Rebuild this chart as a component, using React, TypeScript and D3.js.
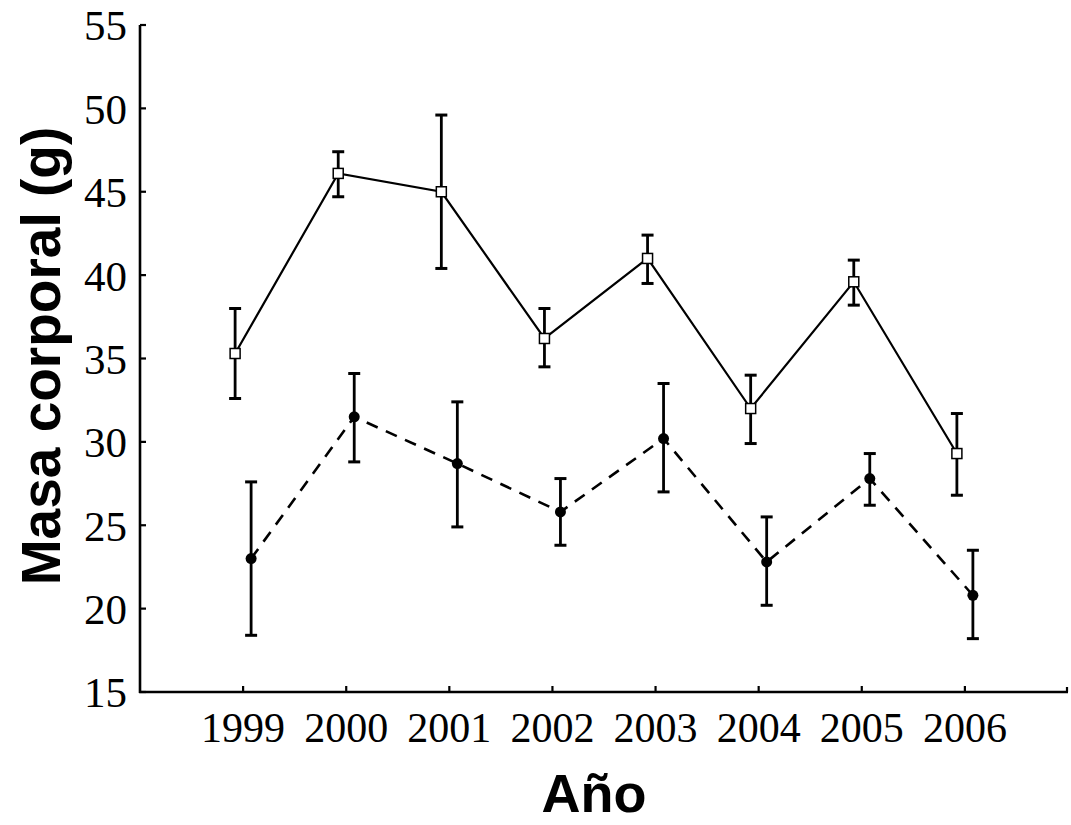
import React from "react";
import * as d3 from "d3";

// Años de muestreo
const years = [1999, 2000, 2001, 2002, 2003, 2004, 2005, 2006];

// Serie 1 (cuadrados blancos, línea continua): media y límites de la barra de error
const seriesAMean = [35.3, 46.1, 45.0, 36.2, 41.0, 32.0, 39.6, 29.3];
const seriesAHigh = [38.0, 47.4, 49.6, 38.0, 42.4, 34.0, 40.9, 31.7];
const seriesALow = [32.6, 44.7, 40.4, 34.5, 39.5, 29.9, 38.2, 26.8];

// Serie 2 (círculos negros, línea discontinua)
const seriesBMean = [23.0, 31.5, 28.7, 25.8, 30.2, 22.8, 27.8, 20.8];
const seriesBHigh = [27.6, 34.1, 32.4, 27.8, 33.5, 25.5, 29.3, 23.5];
const seriesBLow = [18.4, 28.8, 24.9, 23.8, 27.0, 20.2, 26.2, 18.2];

const yTicks = [15, 20, 25, 30, 35, 40, 45, 50, 55];

const W = 1071;
const H = 825;
const left = 140;
const right = 1068;
const top = 25;
const bottom = 692;

export default function App() {
  const x = d3.scaleLinear().domain([1998, 2007]).range([left, right]);
  const y = d3.scaleLinear().domain([15, 55]).range([bottom, top]);

  const offA = -8;
  const offB = 8;

  const lineA = d3
    .line<number>()
    .x((_, i) => x(years[i]) + offA)
    .y((d) => y(d));
  const lineB = d3
    .line<number>()
    .x((_, i) => x(years[i]) + offB)
    .y((d) => y(d));

  const cap = 6;
  const serif = "'Liberation Serif', 'Times New Roman', serif";
  const sans = "'Liberation Sans', Arial, Helvetica, sans-serif";

  const errorBars = (hi: number[], lo: number[], off: number, key: string) =>
    years.map((yr, i) => {
      const cx = x(yr) + off;
      return (
        <g key={key + i} stroke="#000" strokeWidth={2.8}>
          <line x1={cx} x2={cx} y1={y(hi[i])} y2={y(lo[i])} />
          <line x1={cx - cap} x2={cx + cap} y1={y(hi[i])} y2={y(hi[i])} strokeWidth={3} />
          <line x1={cx - cap} x2={cx + cap} y1={y(lo[i])} y2={y(lo[i])} strokeWidth={3} />
        </g>
      );
    });

  return (
    <svg
      width={W}
      height={H}
      viewBox={`0 0 ${W} ${H}`}
      style={{ position: "absolute", left: 0, top: 0, background: "#fff" }}
    >
      <rect x={0} y={0} width={W} height={H} fill="#fff" />

      {/* Ejes */}
      <line x1={left} x2={left} y1={top} y2={bottom + 1} stroke="#000" strokeWidth={2.6} />
      <line x1={left - 1} x2={right} y1={bottom} y2={bottom} stroke="#000" strokeWidth={2.6} />

      {yTicks.map((t) => (
        <g key={"yt" + t}>
          <line x1={left} x2={left + 6} y1={y(t)} y2={y(t)} stroke="#000" strokeWidth={2.2} />
          <text
            x={127}
            y={y(t)}
            dy="0.36em"
            textAnchor="end"
            fontFamily={serif}
            fontSize={43}
            fill="#000"
          >
            {t}
          </text>
        </g>
      ))}

      {years.map((yr) => (
        <g key={"xt" + yr}>
          <line x1={x(yr)} x2={x(yr)} y1={bottom} y2={bottom - 6} stroke="#000" strokeWidth={2.2} />
          <text
            x={x(yr)}
            y={742}
            textAnchor="middle"
            fontFamily={serif}
            fontSize={42}
            fill="#000"
          >
            {yr}
          </text>
        </g>
      ))}
      <line x1={right - 1} x2={right - 1} y1={bottom} y2={bottom - 5} stroke="#000" strokeWidth={2.2} />

      {/* Barras de error */}
      {errorBars(seriesAHigh, seriesALow, offA, "a")}
      {errorBars(seriesBHigh, seriesBLow, offB, "b")}

      {/* Líneas */}
      <path d={lineA(seriesAMean) || ""} fill="none" stroke="#000" strokeWidth={2.2} />
      <path
        d={lineB(seriesBMean) || ""}
        fill="none"
        stroke="#000"
        strokeWidth={2.6}
        strokeDasharray="12 9"
      />

      {/* Marcadores */}
      {seriesAMean.map((v, i) => (
        <rect
          key={"sq" + i}
          x={x(years[i]) + offA - 5}
          y={y(v) - 5}
          width={10}
          height={10}
          fill="#fff"
          stroke="#000"
          strokeWidth={1.5}
        />
      ))}
      {seriesBMean.map((v, i) => (
        <circle key={"ci" + i} cx={x(years[i]) + offB} cy={y(v)} r={5.5} fill="#000" />
      ))}

      {/* Títulos */}
      <text
        transform={`translate(60, ${356}) rotate(-90)`}
        textAnchor="middle"
        fontFamily={sans}
        fontWeight="bold"
        fontSize={55}
        fill="#000"
      >
        Masa corporal (g)
      </text>
      <text
        x={594}
        y={812}
        textAnchor="middle"
        fontFamily={sans}
        fontWeight="bold"
        fontSize={54}
        fill="#000"
      >
        Año
      </text>
    </svg>
  );
}
